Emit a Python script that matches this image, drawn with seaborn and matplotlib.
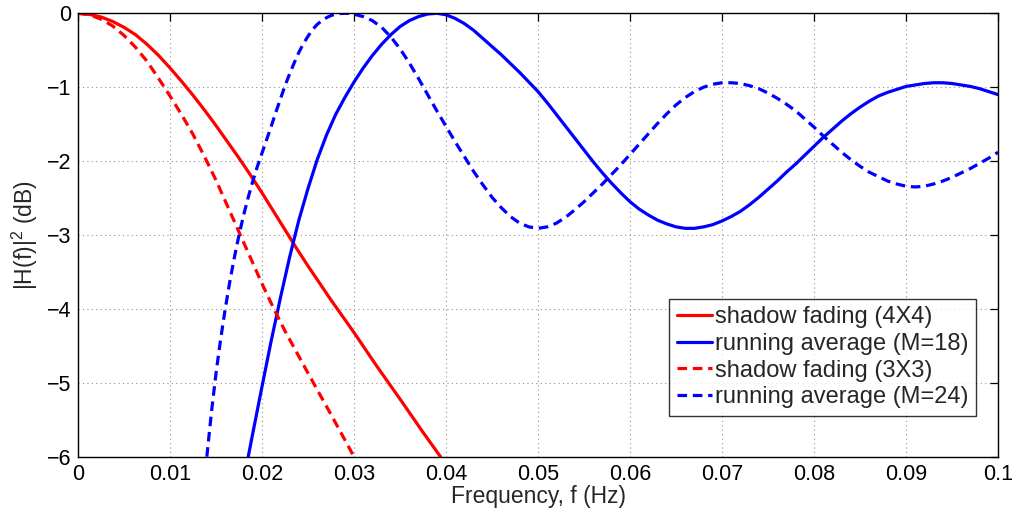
import numpy as np
import pandas as pd
import matplotlib
matplotlib.use('Agg')
import matplotlib.pyplot as plt
import seaborn as sns

# values (frequency in Hz, |H(f)|^2 in dB)
freq_sf4 = [0, 0.00125, 0.0025, 0.00375, 0.005, 0.00625, 0.0075, 0.00875, 0.01, 0.01125,
            0.0125, 0.01375, 0.015, 0.01625, 0.0175, 0.01875, 0.02, 0.02125, 0.0225, 0.02375,
            0.025, 0.0275, 0.03, 0.0325, 0.035, 0.0375, 0.0394]
db_sf4 = [0, -0.015, -0.05, -0.11, -0.19, -0.29, -0.42, -0.57, -0.74, -0.92,
          -1.11, -1.31, -1.52, -1.74, -1.96, -2.19, -2.43, -2.68, -2.93, -3.18,
          -3.42, -3.88, -4.32, -4.78, -5.22, -5.67, -6.0]

freq_sf3 = [0, 0.00125, 0.0025, 0.00375, 0.005, 0.00625, 0.0075, 0.00875, 0.01, 0.01125,
            0.0125, 0.01375, 0.015, 0.01625, 0.0175, 0.01875, 0.02, 0.02125, 0.0225, 0.025,
            0.0275, 0.03]
db_sf3 = [0, -0.02, -0.08, -0.17, -0.3, -0.46, -0.65, -0.88, -1.12, -1.37,
          -1.64, -1.94, -2.26, -2.61, -2.96, -3.31, -3.66, -3.99, -4.3, -4.87,
          -5.43, -6.0]

freq_ra18 = [0.0185, 0.019, 0.02, 0.021, 0.022, 0.023, 0.024, 0.025, 0.026, 0.027,
             0.028, 0.029, 0.03, 0.031, 0.032, 0.033, 0.034, 0.035, 0.036, 0.037,
             0.038, 0.039, 0.04, 0.041, 0.042, 0.043, 0.044, 0.045, 0.046, 0.047,
             0.048, 0.049, 0.05, 0.051, 0.052, 0.053, 0.054, 0.055, 0.056, 0.057,
             0.058, 0.059, 0.06, 0.061, 0.062, 0.063, 0.064, 0.065, 0.066, 0.067,
             0.068, 0.069, 0.07, 0.071, 0.072, 0.073, 0.074, 0.075, 0.076, 0.077,
             0.078, 0.079, 0.08, 0.081, 0.082, 0.083, 0.084, 0.085, 0.086, 0.087,
             0.088, 0.089, 0.09, 0.091, 0.092, 0.093, 0.094, 0.095, 0.096, 0.097,
             0.098, 0.099, 0.1]
db_ra18 = [-6.0, -5.68, -5.05, -4.43, -3.85, -3.3, -2.8, -2.37, -1.98, -1.65,
           -1.37, -1.14, -0.93, -0.74, -0.57, -0.42, -0.29, -0.18, -0.1, -0.045,
           -0.01, 0, -0.02, -0.07, -0.14, -0.23, -0.34, -0.45, -0.56, -0.68,
           -0.8, -0.93, -1.06, -1.21, -1.37, -1.53, -1.69, -1.85, -2.01, -2.16,
           -2.3, -2.43, -2.55, -2.65, -2.73, -2.8, -2.85, -2.89, -2.91, -2.91,
           -2.89, -2.86, -2.81, -2.75, -2.68, -2.59, -2.49, -2.38, -2.27, -2.15,
           -2.04, -1.92, -1.8, -1.68, -1.57, -1.46, -1.36, -1.27, -1.19, -1.12,
           -1.07, -1.03, -0.99, -0.97, -0.95, -0.94, -0.94, -0.95, -0.97, -0.99,
           -1.02, -1.06, -1.1]

freq_ra24 = [0.014, 0.0145, 0.015, 0.0155, 0.016, 0.0165, 0.017, 0.0175, 0.018, 0.0185,
             0.019, 0.0195, 0.02, 0.0205, 0.021, 0.0215, 0.022, 0.0225, 0.023, 0.0235,
             0.024, 0.0245, 0.025, 0.0255, 0.026, 0.0265, 0.027, 0.0275, 0.028, 0.0285,
             0.029, 0.0295, 0.03, 0.031, 0.032, 0.033, 0.034, 0.035, 0.036, 0.037,
             0.038, 0.039, 0.04, 0.041, 0.042, 0.043, 0.044, 0.045, 0.046, 0.047,
             0.048, 0.049, 0.05, 0.051, 0.052, 0.053, 0.054, 0.055, 0.056, 0.057,
             0.058, 0.059, 0.06, 0.061, 0.062, 0.063, 0.064, 0.065, 0.066, 0.067,
             0.068, 0.069, 0.07, 0.071, 0.072, 0.073, 0.074, 0.075, 0.076, 0.077,
             0.078, 0.079, 0.08, 0.081, 0.082, 0.083, 0.084, 0.085, 0.086, 0.087,
             0.088, 0.089, 0.09, 0.091, 0.092, 0.093, 0.094, 0.095, 0.096, 0.097,
             0.098, 0.099, 0.1]
db_ra24 = [-6.0, -5.4, -4.87, -4.41, -4.0, -3.63, -3.3, -3.0, -2.73, -2.49,
           -2.27, -2.07, -1.89, -1.71, -1.53, -1.34, -1.16, -0.98, -0.82, -0.67,
           -0.53, -0.41, -0.31, -0.22, -0.15, -0.1, -0.06, -0.03, -0.012, -0.003,
           0, -0.002, -0.012, -0.045, -0.1, -0.19, -0.32, -0.48, -0.67, -0.88,
           -1.1, -1.32, -1.53, -1.74, -1.94, -2.14, -2.32, -2.49, -2.63, -2.75,
           -2.84, -2.89, -2.91, -2.89, -2.84, -2.76, -2.66, -2.55, -2.43, -2.31,
           -2.18, -2.05, -1.91, -1.77, -1.63, -1.49, -1.36, -1.24, -1.14, -1.06,
           -1.0, -0.96, -0.94, -0.94, -0.95, -0.98, -1.02, -1.08, -1.15, -1.23,
           -1.32, -1.43, -1.54, -1.66, -1.77, -1.88, -1.98, -2.07, -2.15, -2.21,
           -2.27, -2.31, -2.34, -2.35, -2.34, -2.31, -2.27, -2.22, -2.16, -2.1,
           -2.03, -1.96, -1.88]

x_ticks = [0, 0.01, 0.02, 0.03, 0.04, 0.05, 0.06, 0.07, 0.08, 0.09, 0.1]
x_tick_labels = ['0', '0.01', '0.02', '0.03', '0.04', '0.05', '0.06', '0.07', '0.08', '0.09', '0.1']
y_ticks = [0, -1, -2, -3, -4, -5, -6]
y_tick_labels = ['0', '\u22121', '\u22122', '\u22123', '\u22124', '\u22125', '\u22126']

sns.set_style('white')
plt.rcParams['font.family'] = ['Liberation Sans', 'DejaVu Sans']
plt.rcParams['mathtext.default'] = 'regular'

fig = plt.figure(figsize=(10.16, 5.15), dpi=100)
ax = fig.add_axes([0.0768, 0.1132, 0.9055, 0.861])

lw = 2.3
dash = (3.0, 1.8)
sns.lineplot(x=freq_sf4, y=db_sf4, color='#ff0000', lw=lw, label='shadow fading (4X4)', ax=ax)
sns.lineplot(x=freq_ra18, y=db_ra18, color='#0000ff', lw=lw, label='running average (M=18)', ax=ax)
sns.lineplot(x=freq_sf3, y=db_sf3, color='#ff0000', lw=lw, label='shadow fading (3X3)', ax=ax)
sns.lineplot(x=freq_ra24, y=db_ra24, color='#0000ff', lw=lw, label='running average (M=24)', ax=ax)
ax.lines[2].set_dashes(dash)
ax.lines[3].set_dashes(dash)

ax.set_xlim(0, 0.1)
ax.set_ylim(-6, 0)
ax.set_xticks(x_ticks)
ax.set_xticklabels(x_tick_labels)
ax.set_yticks(y_ticks)
ax.set_yticklabels(y_tick_labels)

ax.grid(True, linestyle=(0, (1, 3)), color='#909090', lw=0.8)
ax.tick_params(direction='in', length=6, width=0.9, top=True, right=True,
               labelsize=15.5, colors='black', pad=5)
for s in ax.spines.values():
    s.set_visible(True)
    s.set_color('black')
    s.set_linewidth(1.0)

ax.set_xlabel('Frequency, f (Hz)', fontsize=16.5, labelpad=0)
ax.set_ylabel('|H(f)|$^2$ (dB)', fontsize=16.5, labelpad=5)

leg = ax.legend(loc='lower right', bbox_to_anchor=(0.976, 0.092), borderaxespad=0,
                fontsize=17, frameon=True, fancybox=False, handlelength=1.5,
                handletextpad=0.12, labelspacing=0.2, borderpad=0.32)
leg.get_frame().set_edgecolor('black')
leg.get_frame().set_linewidth(1.0)
for h in leg.get_lines()[2:]:
    h.set_dashes(dash)

fig.savefig('out.png', dpi=100)
plt.close(fig)
